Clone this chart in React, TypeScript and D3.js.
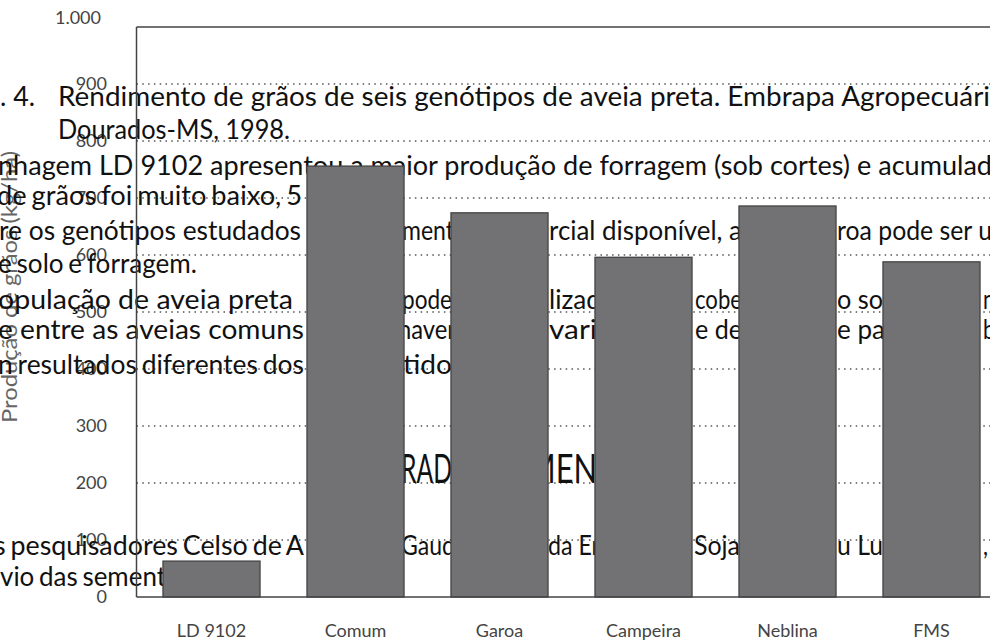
import React from "react";
import * as d3 from "d3";

const categories = ["LD 9102", "Comum", "Garoa", "Campeira", "Neblina", "FMS"];
const yields = [63, 756, 674, 596, 686, 588];
const yTicks = [0, 100, 200, 300, 400, 500, 600, 700, 800, 900, 1000];
const yTickLabels = ["0", "100", "200", "300", "400", "500", "600", "700", "800", "900", "1.000"];
const yTitle = "Produção de grãos (kg/ha)";

// bleed-through document text (annotation layer)
const docText = [
  { t: ". 4.", x: 0, w: 35, y: 106 },
  { t: "Rendimento de grãos de seis genótipos de aveia preta. Embrapa Agropecuári", x: 58, w: 932, y: 106 },
  { t: "Dourados-MS, 1998.", x: 58, w: 232, y: 139 },
  { t: "nhagem LD 9102 apresentou a maior produção de forragem (sob cortes) e acumulad", x: -2, w: 994, y: 175 },
  { t: "de grãos foi muito baixo, 5", x: -3, w: 305, y: 205, tight: true },
  { t: "re os genótipos estudados", x: -1, w: 302, y: 240 },
  { t: "ment", x: 402, w: 52, y: 240 },
  { t: "rcial disponível, a", x: 549, w: 193, y: 240 },
  { t: "roa pode ser u", x: 837, w: 155, y: 240 },
  { t: "e solo e forragem.", x: -2, w: 199, y: 273, tight: true },
  { t: "opulação de aveia preta", x: -2, w: 295, y: 309 },
  { t: "pode", x: 402, w: 50, y: 309 },
  { t: "lizad", x: 549, w: 52, y: 309 },
  { t: "cobe", x: 695, w: 47, y: 309 },
  { t: "o so", x: 837, w: 46, y: 309 },
  { t: "n", x: 983, w: 12, y: 309 },
  { t: "e entre as aveias comuns", x: -2, w: 306, y: 339 },
  { t: "haver", x: 398, w: 58, y: 339 },
  { t: "vari", x: 549, w: 48, y: 339 },
  { t: "e de", x: 695, w: 47, y: 339 },
  { t: "e pa", x: 837, w: 48, y: 339 },
  { t: "b", x: 983, w: 12, y: 339 },
  { t: "n resultados diferentes dos", x: -2, w: 306, y: 374, tight: true },
  { t: "tido", x: 403, w: 49, y: 374 },
  { t: "s pesquisadores Celso de A", x: -6, w: 310, y: 555, tight: true },
  { t: "Gaud", x: 401, w: 54, y: 555 },
  { t: "da Er", x: 548, w: 52, y: 555 },
  { t: "Soja", x: 694, w: 46, y: 555 },
  { t: "u Lu", x: 837, w: 46, y: 555 },
  { t: ",", x: 983, w: 5, y: 555 },
  { t: "vio das sement", x: 0, w: 166, y: 586, tight: true },
];
const headingText = [
  { t: "RAD", x: 401, w: 51, y: 483 },
  { t: "MEN", x: 527, w: 70, y: 483 },
];

const W = 990;
const H = 642;
const left = 136.5;
const right = 990;
const top = 27;
const bottom = 597;
const FONT = "Lato, 'Noto Sans', sans-serif";

export default function App() {
  const x = d3
    .scaleBand<string>()
    .domain(categories)
    .range([139.5, 1003.5])
    .paddingInner(0.326)
    .paddingOuter(0.163);
  const y = d3.scaleLinear().domain([0, 1000]).range([bottom, top]);

  return (
    <svg
      width={W}
      height={H}
      viewBox={`0 0 ${W} ${H}`}
      style={{ position: "absolute", left: 0, top: 0, background: "#fff" }}
      fontFamily={FONT}
    >
      <rect x={0} y={0} width={W} height={H} fill="#fff" />
      {/* gridlines */}
      {yTicks
        .filter((v) => v > 0 && v < 1000)
        .map((v) => (
          <line
            key={"g" + v}
            x1={left}
            x2={right}
            y1={y(v)}
            y2={y(v)}
            stroke="#555"
            strokeWidth={1.4}
            strokeDasharray="1.5 4.3"
          />
        ))}
      {/* tick labels */}
      {yTicks.map((v, i) => (
        <text
          key={"t" + v}
          x={v === 1000 ? 101 : 107}
          y={v === 1000 ? 24 : y(v) + 6}
          textAnchor="end"
          fontSize={18}
          fill="#444"
        >
          {yTickLabels[i]}
        </text>
      ))}
      {/* y title */}
      <text
        transform="translate(17,287) rotate(-90)"
        textAnchor="middle"
        fontSize={22}
        fill="#666"
        textLength={272}
        lengthAdjust="spacingAndGlyphs"
      >
        {yTitle}
      </text>
      {/* document bleed-through text */}
      {docText.map((d, i) => (
        <text
          key={"d" + i}
          x={d.x}
          y={d.y}
          fontSize={27}
          fill="#111"
          textLength={d.w}
          lengthAdjust="spacingAndGlyphs"
          style={{ wordSpacing: d.tight ? "-2px" : "0px" }}
        >
          {d.t}
        </text>
      ))}
      {headingText.map((d, i) => (
        <text
          key={"h" + i}
          x={d.x}
          y={d.y}
          fontSize={40}
          fill="#111"
          textLength={d.w}
          lengthAdjust="spacingAndGlyphs"
        >
          {d.t}
        </text>
      ))}
      {/* bars */}
      {categories.map((c, i) => (
        <rect
          key={c}
          x={x(c)}
          y={y(yields[i])}
          width={x.bandwidth()}
          height={bottom - y(yields[i])}
          fill="#727274"
          stroke="#444"
          strokeWidth={1.3}
        />
      ))}
      {/* frame */}
      <line x1={left} x2={left} y1={top} y2={bottom} stroke="#444" strokeWidth={1.5} />
      <line x1={left} x2={right} y1={top} y2={top} stroke="#444" strokeWidth={1.5} />
      <line x1={left} x2={right} y1={bottom} y2={bottom} stroke="#444" strokeWidth={1.5} />
      {/* category labels */}
      {categories.map((c) => (
        <text
          key={"c" + c}
          x={(x(c) as number) + x.bandwidth() / 2}
          y={637}
          textAnchor="middle"
          fontSize={18}
          fill="#444"
        >
          {c}
        </text>
      ))}
    </svg>
  );
}
